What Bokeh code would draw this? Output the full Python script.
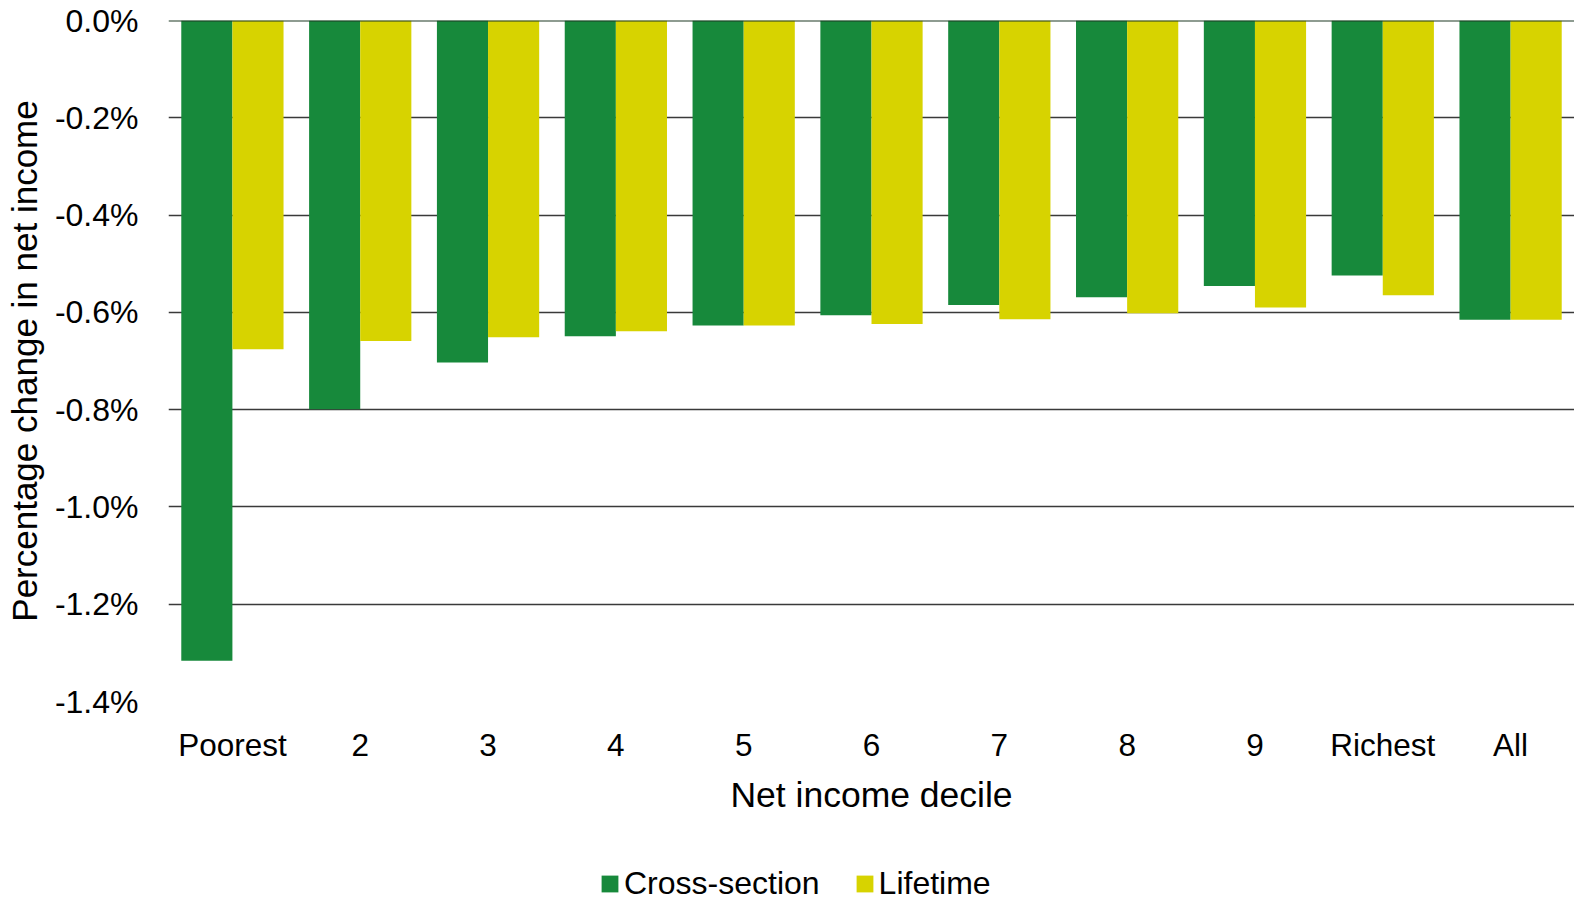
from bokeh.plotting import figure
from bokeh.layouts import column
from bokeh.models import ColumnDataSource, FactorRange, FixedTicker, PrintfTickFormatter, Span, Legend, LegendItem, Range1d
from bokeh.transform import dodge
from bokeh.embed import file_html
from bokeh.resources import INLINE

categories = ["Poorest", "2", "3", "4", "5", "6", "7", "8", "9", "Richest", "All"]
cross_section = [-1.316, -0.799, -0.703, -0.649, -0.627, -0.606, -0.585, -0.569, -0.546, -0.524, -0.615]
lifetime = [-0.676, -0.659, -0.651, -0.639, -0.627, -0.624, -0.614, -0.602, -0.590, -0.565, -0.615]
y_ticks = [-1.4, -1.2, -1.0, -0.8, -0.6, -0.4, -0.2, 0.0]
series_names = ["Cross-section", "Lifetime"]

GREEN = "#17893B"
YELLOW = "#D7D300"
FONT = "Liberation Sans"

src = ColumnDataSource(dict(cat=categories, cs=cross_section, lt=lifetime))

p = figure(frame_width=1406, frame_height=681, x_range=FactorRange(*categories, range_padding=0),
           y_range=(-1.4, 0.0), output_backend="svg", toolbar_location=None,
           min_border_left=168, min_border_right=0, min_border_top=20, min_border_bottom=129)
p.outline_line_color = None
p.background_fill_color = "white"

r1 = p.vbar(x=dodge("cat", -0.2, range=p.x_range), top=0, bottom="cs", width=0.4,
            source=src, fill_color=GREEN, line_color=None)
r2 = p.vbar(x=dodge("cat", 0.2, range=p.x_range), top=0, bottom="lt", width=0.4,
            source=src, fill_color=YELLOW, line_color=None)

p.add_layout(Span(location=0, dimension="width", line_color="#1f3a24", line_width=2))

p.xgrid.visible = False
p.ygrid.grid_line_color = "#3a3a3a"
p.ygrid.grid_line_width = 1.3
p.ygrid.ticker = FixedTicker(ticks=y_ticks)

p.yaxis.ticker = FixedTicker(ticks=y_ticks)
p.yaxis.formatter = PrintfTickFormatter(format="%.1f%%")
p.yaxis.axis_line_color = None
p.yaxis.major_tick_line_color = None
p.yaxis.minor_tick_line_color = None
p.yaxis.major_tick_out = 0
p.yaxis.major_tick_in = 0
p.yaxis.major_label_standoff = 30
p.yaxis.major_label_text_font = FONT
p.yaxis.major_label_text_font_size = "32px"
p.yaxis.major_label_text_color = "black"
p.yaxis.axis_label = "Percentage change in net income"
p.yaxis.axis_label_text_font = FONT
p.yaxis.axis_label_text_font_size = "35px"
p.yaxis.axis_label_text_font_style = "normal"
p.yaxis.axis_label_text_color = "black"
p.yaxis.axis_label_standoff = 8

p.xaxis.axis_line_color = None
p.xaxis.major_tick_line_color = None
p.xaxis.minor_tick_line_color = None
p.xaxis.major_tick_out = 0
p.xaxis.major_tick_in = 0
p.xaxis.major_label_standoff = 25
p.xaxis.major_label_text_font = FONT
p.xaxis.major_label_text_font_size = "31.5px"
p.xaxis.major_label_text_color = "black"
p.xaxis.axis_label = "Net income decile"
p.xaxis.axis_label_text_font = FONT
p.xaxis.axis_label_text_font_size = "35.5px"
p.xaxis.axis_label_text_font_style = "normal"
p.xaxis.axis_label_text_color = "black"
p.xaxis.axis_label_standoff = 9

# legend strip below the chart (frame aligned with the main chart's frame)
lg = figure(width=1574, height=80, x_range=Range1d(0, 1), y_range=Range1d(0, 1),
            output_backend="svg", toolbar_location=None,
            min_border_left=0, min_border_right=0, min_border_top=0, min_border_bottom=0)
lg.axis.visible = False
lg.grid.visible = False
lg.outline_line_color = None
k1 = lg.vbar(x=[10], top=[10], width=0.1, fill_color=GREEN, line_color=None)
k2 = lg.vbar(x=[10], top=[10], width=0.1, fill_color=YELLOW, line_color=None)

legend = Legend(items=[LegendItem(label=series_names[0], renderers=[k1]),
                       LegendItem(label=series_names[1], renderers=[k2])],
                orientation="horizontal", location=(431, 8))
legend.label_text_font = FONT
legend.label_text_font_size = "32px"
legend.label_text_color = "black"
legend.glyph_width = 21
legend.glyph_height = 21
legend.label_standoff = 4
legend.spacing = 34
legend.padding = 0
legend.margin = 0
legend.border_line_color = None
legend.background_fill_alpha = 0
legend.label_height = 32
lg.add_layout(legend)

layout = column(p, lg, spacing=0)
open("out.html", "w").write(file_html(layout, INLINE))
